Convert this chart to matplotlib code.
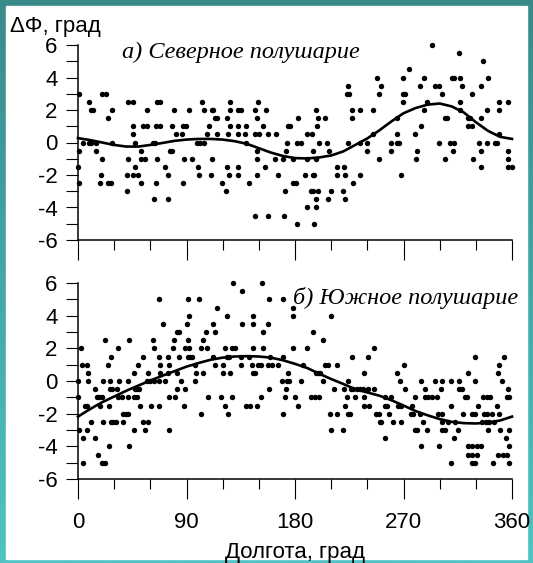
import numpy as np
import matplotlib
matplotlib.use("Agg")
import matplotlib.pyplot as plt
from matplotlib.ticker import MultipleLocator
from matplotlib.patches import Rectangle
from matplotlib.colors import LinearSegmentedColormap

plt.rcParams["font.family"] = ["Liberation Sans", "DejaVu Sans"]
plt.rcParams["axes.unicode_minus"] = False

# ---------------- Northern hemisphere: longitude (deg) and dPhi (deg) ----------------
north_lon = [
    293.3,
    316.3,
    336.2,
    274.5,
    247.7, 269.3, 287.3, 309.9, 312.2, 316.9, 340.4,
    224.2, 251.0, 283.7, 296.1, 299.4, 318.2, 334.0,
    0.8, 19.6, 22.9, 222.9, 224.6, 249.9, 269.3, 271.2, 302.2, 326.5,
    9.1, 41.8, 45.4, 65.3, 68.0, 103.1, 126.1, 149.6, 269.3, 289.2, 316.9, 349.5, 357.0,
    10.5, 12.7, 27.9, 57.5, 79.9, 92.1, 104.8, 110.9, 112.3, 126.1, 133.0, 134.9, 146.8,
    155.7, 197.4, 227.6, 233.9, 244.4, 287.3, 316.9, 339.0, 349.5,
    25.2, 113.6, 115.6, 123.9, 148.2, 182.8, 199.4, 204.9, 227.6, 264.3, 304.4, 306.3,
    323.8, 325.1, 334.0,
    45.4, 54.2, 57.5, 64.7, 68.0, 78.2, 87.4, 89.3, 109.0, 126.1, 133.0, 139.4, 153.7,
    173.9, 175.9, 198.5, 284.2, 323.8, 326.5,
    45.4, 81.3, 86.0, 107.3, 115.6, 124.7, 133.0, 138.5, 146.8, 150.4, 157.9, 164.2,
    189.7, 193.8, 244.4, 264.3, 279.5, 349.5,
    3.9, 9.1, 10.5, 15.0, 27.9, 47.3, 61.9, 63.9, 99.0, 101.2, 104.5, 139.4, 173.6,
    181.4, 184.7, 200.2, 206.8, 224.2, 233.9, 239.4, 259.3, 264.3, 266.3, 299.4, 308.6,
    312.2, 332.6, 339.0, 345.9, 347.8,
    0.8, 15.0, 52.3, 76.3, 78.2, 148.2, 172.5, 194.7, 208.5, 239.4, 259.3, 281.5, 311.3,
    334.0, 357.0,
    19.6, 41.8, 52.3, 55.6, 65.3, 87.9, 94.8, 110.9, 148.2, 163.4, 169.8, 178.1, 190.2,
    197.1, 249.9, 280.4, 304.4, 327.4, 357.0,
    0.3, 47.3, 72.2, 99.8, 123.3, 133.0, 155.1, 214.6, 220.7, 334.0, 356.4, 359.7,
    18.8, 40.4, 45.9, 50.1, 75.0, 100.6, 110.0, 125.5, 133.0, 148.2, 166.2, 188.3, 194.7,
    195.8, 214.6, 221.5, 233.9, 267.6,
    0.8, 18.3, 25.2, 27.1, 52.3, 64.4, 87.4, 119.2, 142.1, 178.6, 180.8, 227.8,
    40.4, 122.8, 171.7, 193.0, 195.2, 199.4, 209.6, 220.1,
    63.3, 75.0, 197.4, 207.7, 221.5,
    189.7, 197.4,
    146.8, 157.9, 170.9,
    181.9, 195.8,
]
north_dphi = [
    6,
    5.5,
    5,
    4.5,
    4, 4, 4, 4, 4, 4, 4,
    3.5, 3.5, 3.5, 3.5, 3.5, 3.5, 3.5,
    3, 3, 3, 3, 3, 3, 3, 3, 3, 3,
    2.5, 2.5, 2.5, 2.5, 2.5, 2.5, 2.5, 2.5, 2.5, 2.5, 2.5, 2.5, 2.5,
    2, 2, 2, 2, 2, 2, 2, 2, 2, 2, 2, 2, 2,
    2, 2, 2, 2, 2, 2, 2, 2, 2,
    1.5, 1.5, 1.5, 1.5, 1.5, 1.5, 1.5, 1.5, 1.5, 1.5, 1.5, 1.5,
    1.5, 1.5, 1.5,
    1, 1, 1, 1, 1, 1, 1, 1, 1, 1, 1, 1, 1,
    1, 1, 1, 1, 1, 1,
    0.5, 0.5, 0.5, 0.5, 0.5, 0.5, 0.5, 0.5, 0.5, 0.5, 0.5, 0.5,
    0.5, 0.5, 0.5, 0.5, 0.5, 0.5,
    0, 0, 0, 0, 0, 0, 0, 0, 0, 0, 0, 0, 0,
    0, 0, 0, 0, 0, 0, 0, 0, 0, 0, 0, 0,
    0, 0, 0, 0, 0,
    -0.5, -0.5, -0.5, -0.5, -0.5, -0.5, -0.5, -0.5, -0.5, -0.5, -0.5, -0.5, -0.5,
    -0.5, -0.5,
    -1, -1, -1, -1, -1, -1, -1, -1, -1, -1, -1, -1, -1,
    -1, -1, -1, -1, -1, -1,
    -1.5, -1.5, -1.5, -1.5, -1.5, -1.5, -1.5, -1.5, -1.5, -1.5, -1.5, -1.5,
    -2, -2, -2, -2, -2, -2, -2, -2, -2, -2, -2, -2, -2,
    -2, -2, -2, -2, -2,
    -2.5, -2.5, -2.5, -2.5, -2.5, -2.5, -2.5, -2.5, -2.5, -2.5, -2.5, -2.5,
    -3, -3, -3, -3, -3, -3, -3, -3,
    -3.5, -3.5, -3.5, -3.5, -3.5,
    -4, -4,
    -4.5, -4.5, -4.5,
    -5, -5,
]

# ---------------- Southern hemisphere ----------------
south_lon = [
    128.9, 152.9,
    135.8,
    67.5, 90.9, 100.6, 158.7, 169.8,
    115.0, 178.1,
    92.1, 123.9, 144.9, 178.1, 209.6,
    70.2, 90.1, 112.3, 135.8, 145.4, 157.9,
    81.8, 84.1, 105.9, 113.6, 153.7, 194.7,
    22.4, 42.3, 62.5, 79.9, 90.9, 104.0, 203.0,
    2.2, 33.5, 63.3, 79.1, 88.8, 92.1, 102.0, 106.7, 121.9, 127.5, 130.2, 144.9, 153.7,
    178.6, 189.7, 245.3,
    27.4, 54.2, 67.5, 74.9, 84.1, 90.9, 92.9, 94.3, 112.3, 123.3, 125.5, 134.9, 142.1,
    159.3, 169.8, 227.0, 240.6, 329.3, 353.3,
    3.0, 7.2, 25.2, 49.5, 68.0, 75.8, 97.1, 113.6, 120.0, 134.9, 144.1, 149.6, 151.5,
    157.9, 160.7, 166.2, 186.9, 204.9, 207.7, 215.1, 270.5, 349.5,
    8.6, 46.5, 58.3, 68.0, 74.4, 81.8, 97.9, 104.0, 120.0, 126.1, 144.9, 146.8, 174.5,
    197.4, 199.4, 200.7, 237.3, 264.6, 323.2, 348.1,
    0.3, 8.6, 21.0, 26.5, 34.3, 41.2, 56.9, 59.7, 63.0, 67.5, 72.2, 85.2, 97.1,
    169.0, 173.1, 175.3, 184.7, 203.0, 224.2, 266.9, 284.3, 296.1, 301.6, 309.1, 316.0,
    329.3, 351.4,
    14.1, 26.5, 28.5, 32.6, 47.3, 48.7, 50.6, 81.8, 88.8, 158.7, 172.5, 212.4, 220.7,
    226.2, 227.8, 231.2, 233.7, 236.5, 240.6, 245.3, 271.6, 287.6, 301.1, 316.0, 318.2,
    356.9,
    0.3, 15.5, 17.7, 19.6, 33.5, 36.2, 41.2, 46.5, 49.2, 75.8, 80.5, 108.1, 118.3,
    127.5, 151.8, 171.7, 180.0, 193.0, 196.6, 200.2, 223.4, 229.8, 237.3, 254.4, 260.0,
    279.9, 287.6, 290.4, 293.7, 297.5, 321.0, 322.9, 336.2, 339.0, 341.7, 355.5, 357.5,
    5.8, 7.2, 18.2, 26.0, 51.4, 60.3, 67.2, 87.9, 121.9, 139.4, 142.7, 148.2, 182.8,
    221.5, 237.3, 241.4, 254.4, 256.6, 265.5, 267.7, 277.4, 309.1, 331.5, 347.3,
    37.6, 39.8, 41.2, 102.0, 124.7, 169.8, 209.0, 214.6, 224.2, 225.6, 247.5, 249.4,
    257.7, 276.5, 277.9, 283.5, 298.9, 301.6, 319.6, 327.1, 329.3, 337.0, 339.5, 343.1,
    349.5,
    10.5, 21.0, 27.4, 29.3, 31.5, 37.0, 54.2, 58.3, 250.3, 251.7, 261.3, 267.7, 286.2,
    302.0, 306.6, 312.7, 334.8, 338.1, 341.2, 345.3,
    1.1, 7.2, 46.5, 55.6, 75.8, 209.6, 219.5, 279.3, 281.5, 289.8, 301.6, 304.4, 315.5,
    340.3, 350.0, 357.5,
    3.9, 14.1, 254.4, 312.1, 354.7,
    26.0, 42.3, 284.3, 299.4, 323.7, 327.1, 330.7, 334.3, 357.5,
    16.3, 323.7, 327.1, 330.7, 348.6, 352.8, 355.5,
    3.9, 19.6, 22.4, 309.1, 327.1, 329.3, 344.5, 357.5,
]
south_dphi = [
    6, 6,
    5.5,
    5, 5, 5, 5, 5,
    4.5, 4.5,
    4, 4, 4, 4, 4,
    3.5, 3.5, 3.5, 3.5, 3.5, 3.5,
    3, 3, 3, 3, 3, 3,
    2.5, 2.5, 2.5, 2.5, 2.5, 2.5, 2.5,
    2, 2, 2, 2, 2, 2, 2, 2, 2, 2, 2, 2, 2,
    2, 2, 2,
    1.5, 1.5, 1.5, 1.5, 1.5, 1.5, 1.5, 1.5, 1.5, 1.5, 1.5, 1.5, 1.5,
    1.5, 1.5, 1.5, 1.5, 1.5, 1.5,
    1, 1, 1, 1, 1, 1, 1, 1, 1, 1, 1, 1, 1,
    1, 1, 1, 1, 1, 1, 1, 1, 1,
    0.5, 0.5, 0.5, 0.5, 0.5, 0.5, 0.5, 0.5, 0.5, 0.5, 0.5, 0.5, 0.5,
    0.5, 0.5, 0.5, 0.5, 0.5, 0.5, 0.5,
    0, 0, 0, 0, 0, 0, 0, 0, 0, 0, 0, 0, 0,
    0, 0, 0, 0, 0, 0, 0, 0, 0, 0, 0, 0,
    0, 0,
    -0.5, -0.5, -0.5, -0.5, -0.5, -0.5, -0.5, -0.5, -0.5, -0.5, -0.5, -0.5, -0.5,
    -0.5, -0.5, -0.5, -0.5, -0.5, -0.5, -0.5, -0.5, -0.5, -0.5, -0.5, -0.5,
    -0.5,
    -1, -1, -1, -1, -1, -1, -1, -1, -1, -1, -1, -1, -1,
    -1, -1, -1, -1, -1, -1, -1, -1, -1, -1, -1, -1,
    -1, -1, -1, -1, -1, -1, -1, -1, -1, -1, -1, -1,
    -1.5, -1.5, -1.5, -1.5, -1.5, -1.5, -1.5, -1.5, -1.5, -1.5, -1.5, -1.5, -1.5,
    -1.5, -1.5, -1.5, -1.5, -1.5, -1.5, -1.5, -1.5, -1.5, -1.5, -1.5,
    -2, -2, -2, -2, -2, -2, -2, -2, -2, -2, -2, -2,
    -2, -2, -2, -2, -2, -2, -2, -2, -2, -2, -2, -2,
    -2,
    -2.5, -2.5, -2.5, -2.5, -2.5, -2.5, -2.5, -2.5, -2.5, -2.5, -2.5, -2.5, -2.5,
    -2.5, -2.5, -2.5, -2.5, -2.5, -2.5, -2.5,
    -3, -3, -3, -3, -3, -3, -3, -3, -3, -3, -3, -3, -3,
    -3, -3, -3,
    -3.5, -3.5, -3.5, -3.5, -3.5,
    -4, -4, -4, -4, -4, -4, -4, -4, -4,
    -4.5, -4.5, -4.5, -4.5, -4.5, -4.5, -4.5,
    -5, -5, -5, -5, -5, -5, -5, -5,
]

# ---------------- Smoothed fits ----------------
fit_lon = [0, 10, 20, 30, 40, 50, 60, 70, 80, 90, 100, 110, 120, 130, 140, 150, 160, 170,
           180, 190, 200, 210, 220, 230, 240, 250, 260, 270, 280, 290, 300, 310, 320, 330,
           340, 350, 360]
north_fit = [0.27, 0.15, 0.0, -0.15, -0.25, -0.25, -0.15, -0.03, 0.1, 0.18, 0.22, 0.22,
             0.18, 0.08, -0.08, -0.35, -0.62, -0.83, -0.96, -0.98, -0.92, -0.8, -0.55,
             -0.15, 0.25, 0.75, 1.3, 1.8, 2.12, 2.33, 2.4, 2.22, 1.85, 1.25, 0.72, 0.35,
             0.22]
south_fit = [-2.18, -1.72, -1.3, -0.95, -0.6, -0.28, 0.03, 0.32, 0.6, 0.88, 1.1, 1.3,
             1.43, 1.5, 1.52, 1.5, 1.43, 1.27, 1.05, 0.8, 0.45, 0.12, -0.18, -0.5, -0.7,
             -0.9, -1.18, -1.5, -1.84, -2.1, -2.33, -2.5, -2.58, -2.6, -2.55, -2.42, -2.18]

x_ticks = [0, 90, 180, 270, 360]
y_ticks = [-6, -4, -2, 0, 2, 4, 6]

W, H = 533, 563
fig = plt.figure(figsize=(W / 100, H / 100), dpi=100)

# teal frame with a vertical gradient and a white panel inside
bg = fig.add_axes([0, 0, 1, 1], zorder=-10)
frame_cmap = LinearSegmentedColormap.from_list("frame", ["#3a8a8a", "#4fc4c2"])
bg.imshow(np.linspace(0, 1, 256).reshape(-1, 1), aspect="auto", cmap=frame_cmap,
          extent=[0, 1, 0, 1], origin="upper")
bg.add_patch(Rectangle((6 / W, 4 / H), 521 / W, 553 / H, color="white",
                       transform=bg.transAxes))
bg.set_xlim(0, 1)
bg.set_ylim(0, 1)
bg.axis("off")

ax1 = fig.add_axes([78 / W, 1 - 240 / H, 434 / W, 195 / H])
ax2 = fig.add_axes([78 / W, 1 - 479 / H, 434 / W, 196 / H])

for ax, lon, dphi, fit in ((ax1, north_lon, north_dphi, north_fit),
                           (ax2, south_lon, south_dphi, south_fit)):
    ax.set_facecolor("none")
    ax.plot(lon, dphi, "o", color="black", ms=3.9, mew=0, clip_on=False)
    ax.plot(fit_lon, fit, color="black", lw=1.9, clip_on=False)
    ax.set_xlim(0, 360)
    ax.set_ylim(-6, 6)
    for side in ("top", "right"):
        ax.spines[side].set_visible(False)
    for side in ("left", "bottom"):
        ax.spines[side].set_linewidth(1.1)
    ax.set_xticks(x_ticks)
    ax.xaxis.set_minor_locator(MultipleLocator(30))
    ax.set_yticks(y_ticks)
    ax.yaxis.set_minor_locator(MultipleLocator(1))
    ax.tick_params(axis="y", which="both", direction="out", length=8.6, width=0.8,
                   labelsize=16, pad=6)
    ax.tick_params(axis="x", which="major", direction="out", length=14.4, width=0.8,
                   labelsize=16, pad=9)
    ax.tick_params(axis="x", which="minor", direction="out", length=7.2, width=0.8)

ax1.tick_params(axis="x", labelbottom=False)

fig.text(10 / W, 1 - 32 / H, "ΔΦ, град", fontsize=16, ha="left", va="baseline")
fig.text(122 / W, 1 - 58 / H, "а) Северное полушарие", fontsize=17.5,
         family=["Liberation Serif"], style="italic", ha="left", va="baseline")
fig.text(518 / W, 1 - 304 / H, "б) Южное полушарие", fontsize=17.5,
         family=["Liberation Serif"], style="italic", ha="right", va="baseline")
fig.text(295 / W, 1 - 558 / H, "Долгота, град", fontsize=16, ha="center",
         va="baseline")

fig.savefig("out.png", dpi=100)
